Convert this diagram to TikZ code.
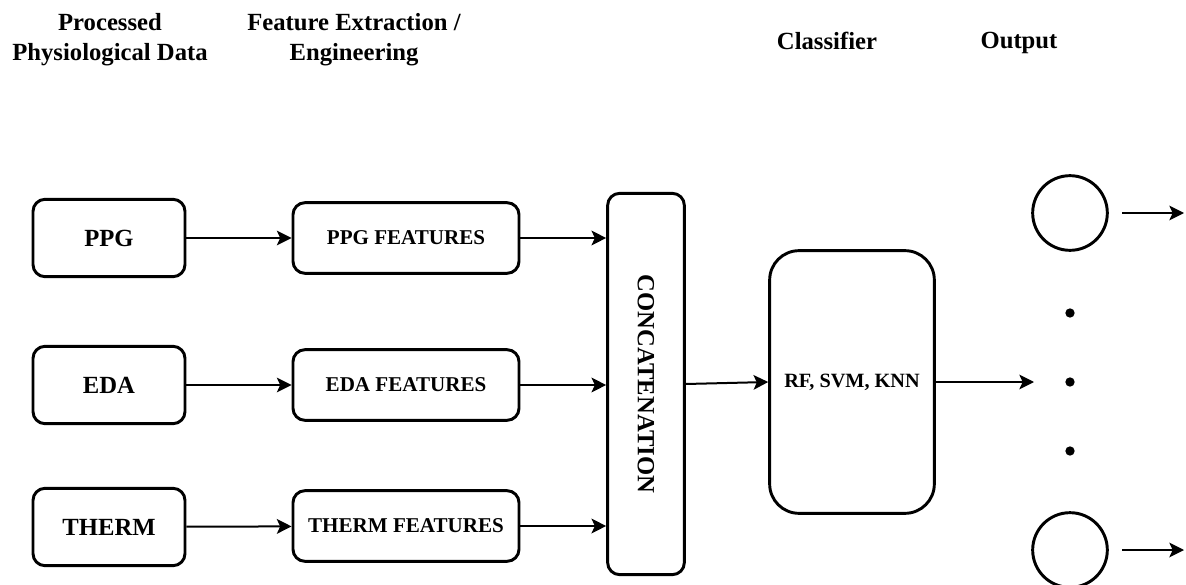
\documentclass[tikz,border=0pt]{standalone}
\usepackage{fontspec}
\setmainfont{Liberation Serif}
\usepackage{xcolor}
\usepackage{tikz}
\usetikzlibrary{positioning,shapes,arrows.meta,calc}

\begin{document}
\begin{tikzpicture}[x=0.75pt, y=-0.75pt,
    box/.style={draw, rectangle, rounded corners=9pt, line width=2.2pt, align=center, font=\bfseries},
    inbox/.style={box, minimum width=114pt, minimum height=58pt, font=\fontsize{18.5}{22}\bfseries},
    featbox/.style={box, minimum width=169.5pt, minimum height=53pt, font=\fontsize{15.8}{18}\bfseries},
    header/.style={align=center, font=\fontsize{18.5}{22.5}\bfseries},
    arr/.style={-{Stealth[length=11pt, width=11pt, inset=2.5pt]}, line width=1.5pt},
    outcirc/.style={draw, circle, line width=2.2pt, minimum size=56pt, inner sep=0pt},
    dotnode/.style={fill, circle, minimum size=7pt, inner sep=0pt}]
    \useasboundingbox (0,0) rectangle (1186,585);

    % column headers
    \node[header] (hdata) at (110,40) {Processed\\Physiological Data};
    \node[header] (hfeat) at (354,40) {Feature Extraction /\\Engineering};
    \node[header] (hclf) at (827,41) {Classifier};
    \node[header] (hout) at (1019,43) {Output};

    % input signals
    \node[inbox] (ppg) at (109,238) {PPG};
    \node[inbox] (eda) at (109,385) {EDA};
    \node[inbox] (therm) at (109,527) {THERM};

    % feature blocks
    \node[featbox] (ppgf) at (406,238) {PPG FEATURES};
    \node[featbox] (edaf) at (406,385) {EDA FEATURES};
    \node[featbox] (thermf) at (406,526) {THERM FEATURES};

    \node[box, minimum width=57.5pt, minimum height=286pt, font=\fontsize{18.5}{20}\bfseries] (concat) at (646,384)
        {\rotatebox{-90}{CONCATENATION}};

    \node[box, rounded corners=22pt, minimum width=123.5pt, minimum height=197pt, font=\fontsize{15.2}{17}\bfseries] (clf) at (852,382)
        {RF, SVM, KNN};

    % outputs
    \node[outcirc] (out1) at (1070,213) {};
    \node[dotnode] (dot1) at (1070,313) {};
    \node[dotnode] (dot2) at (1070,382) {};
    \node[dotnode] (dot3) at (1070,451) {};
    \node[outcirc] (out2) at (1070,550) {};
    \coordinate (clfend) at (1034,382);
    \coordinate (out1end) at (1184,213);
    \coordinate (out2end) at (1184,550);

    \draw[arr] (ppg) -- (ppgf);
    \draw[arr] (eda) -- (edaf);
    \draw[arr] (therm) -- (thermf);
    \draw[arr] (ppgf.east) -- (ppgf.east -| concat.west);
    \draw[arr] (edaf.east) -- (edaf.east -| concat.west);
    \draw[arr] (thermf.east) -- (thermf.east -| concat.west);
    \draw[arr] (concat.east) -- (clf.west);
    \draw[arr] (clf.east) -- (clfend);
    \draw[arr, shorten <=10pt] (out1.east) -- (out1end);
    \draw[arr, shorten <=10pt] (out2.east) -- (out2end);
\end{tikzpicture}
\end{document}
